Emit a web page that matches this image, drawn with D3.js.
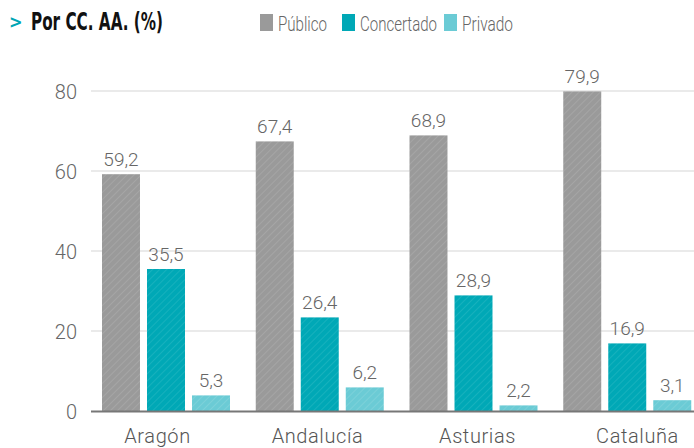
<!DOCTYPE html>
<html>
<head>
<meta charset="utf-8">
<script src="https://cdn.jsdelivr.net/npm/d3@7"></script>
<style>
  body { margin: 0; background: #fff; }
  svg { display: block; }
  text { font-family: Roboto, "Noto Sans", sans-serif; font-weight: 300; }
  .titulo { font-family: "DejaVu Sans Condensed", Roboto, sans-serif; font-weight: bold; }
</style>
</head>
<body>
<div id="chart"></div>
<script>
// categorias (CC. AA.)
var regiones = ["Aragón", "Andalucía", "Asturias", "Cataluña"];
var series = ["Público", "Concertado", "Privado"];
// valores tal y como se dibujan las barras
var publico = [59.2, 67.4, 68.9, 79.9];
var concertado = [35.5, 23.4, 28.9, 16.9];
var privado = [3.9, 5.9, 1.4, 2.7];
// etiquetas impresas sobre cada barra
var etqPublico = ["59,2", "67,4", "68,9", "79,9"];
var etqConcertado = ["35,5", "26,4", "28,9", "16,9"];
var etqPrivado = ["5,3", "6,2", "2,2", "3,1"];
var yTicks = [0, 20, 40, 60, 80];

var colores = ["#9a9a9a", "#00a8b6", "#6bcbd5"];
var rayas = ["#a8a8a8", "#1cb3bf", "#80d3db"];

var W = 694, H = 448;
var svg = d3.select("#chart").append("svg").attr("width", W).attr("height", H);

// patrones rayados
var defs = svg.append("defs");
series.forEach(function(s, i){
    var p = defs.append("pattern")
        .attr("id", "hatch" + i)
        .attr("patternUnits", "userSpaceOnUse")
        .attr("width", 5).attr("height", 5)
        .attr("patternTransform", "rotate(45)");
    p.append("rect").attr("width", 5).attr("height", 5).attr("fill", colores[i]);
    p.append("line").attr("x1", 0).attr("y1", 0).attr("x2", 0).attr("y2", 5)
        .attr("stroke", rayas[i]).attr("stroke-width", 1.6);
});

var filas = regiones.map(function(r, i){
    return {
        region: r,
        vals: [
            {s: 0, v: publico[i], t: etqPublico[i]},
            {s: 1, v: concertado[i], t: etqConcertado[i]},
            {s: 2, v: privado[i], t: etqPrivado[i]}
        ]
    };
});

var y = d3.scaleLinear().domain([0, 80]).range([411, 91]);
var x0 = d3.scaleBand().domain(regiones).range([89, 704]);
var x1 = d3.scaleBand().domain(d3.range(series.length))
    .range([13, 141]).paddingInner(0.156).paddingOuter(0);
var xLab = d3.scalePoint().domain(regiones).range([157, 637]);

// rejilla
svg.append("g").selectAll("line").data(yTicks.slice(1)).enter().append("line")
    .attr("x1", 91).attr("x2", W)
    .attr("y1", function(d){ return y(d); })
    .attr("y2", function(d){ return y(d); })
    .attr("stroke", "#e3e3e3").attr("stroke-width", 1.5);

// eje y
var yAxis = svg.append("g").attr("transform", "translate(77,0)")
    .call(d3.axisLeft(y).tickValues(yTicks).tickSize(0).tickPadding(0));
yAxis.select(".domain").remove();
yAxis.selectAll("text").attr("font-size", 20).attr("fill", "#666").attr("dy", "0.36em")
    .style("font-family", null);

// barras
var grupos = svg.append("g").selectAll("g").data(filas).enter().append("g")
    .attr("transform", function(d){ return "translate(" + x0(d.region) + ",0)"; });

grupos.selectAll("rect").data(function(d){ return d.vals; }).enter().append("rect")
    .attr("x", function(d){ return x1(d.s); })
    .attr("width", x1.bandwidth())
    .attr("y", function(d){ return y(d.v); })
    .attr("height", function(d){ return y(0) - y(d.v); })
    .attr("fill", function(d){ return "url(#hatch" + d.s + ")"; });

grupos.selectAll("text").data(function(d){ return d.vals; }).enter().append("text")
    .attr("x", function(d){ return x1(d.s) + x1.bandwidth() / 2; })
    .attr("y", function(d){ return y(d.v) - 8; })
    .attr("text-anchor", "middle")
    .attr("font-size", 19).attr("fill", "#666")
    .text(function(d){ return d.t; });

// linea base
svg.append("line").attr("x1", 91).attr("x2", W)
    .attr("y1", y(0) + 0.5).attr("y2", y(0) + 0.5)
    .attr("stroke", "#777").attr("stroke-width", 2);

// eje x
var xAxis = svg.append("g").attr("transform", "translate(0,443)")
    .call(d3.axisBottom(xLab).tickSize(0).tickPadding(0));
xAxis.select(".domain").remove();
xAxis.selectAll("text").attr("font-size", 20).attr("fill", "#555").attr("dy", 0)
    .attr("letter-spacing", 0.6);
xAxis.selectAll("text").style("font-family", null);

// titulo
svg.append("text").attr("class", "titulo").attr("x", 9).attr("y", 28)
    .attr("font-size", 18).attr("fill", "#00a5b5")
    .text(">");
svg.append("text").attr("class", "titulo").attr("x", 31).attr("y", 30)
    .attr("font-size", 25).attr("fill", "#111")
    .attr("textLength", 132).attr("lengthAdjust", "spacingAndGlyphs")
    .text("Por CC. AA. (%)");

// leyenda
var legX = [260, 342, 444];
var legW = [49, 77, 51];
var leg = svg.append("g").selectAll("g").data(series).enter().append("g")
    .attr("transform", function(d, i){ return "translate(" + legX[i] + ",14)"; });
leg.append("rect").attr("width", 13).attr("height", 17)
    .attr("fill", function(d, i){ return colores[i]; });
leg.append("text").attr("x", 18).attr("y", 17)
    .attr("font-size", 20).attr("fill", "#666")
    .attr("textLength", function(d, i){ return legW[i]; })
    .attr("lengthAdjust", "spacingAndGlyphs")
    .text(function(d){ return d; });
</script>
</body>
</html>
